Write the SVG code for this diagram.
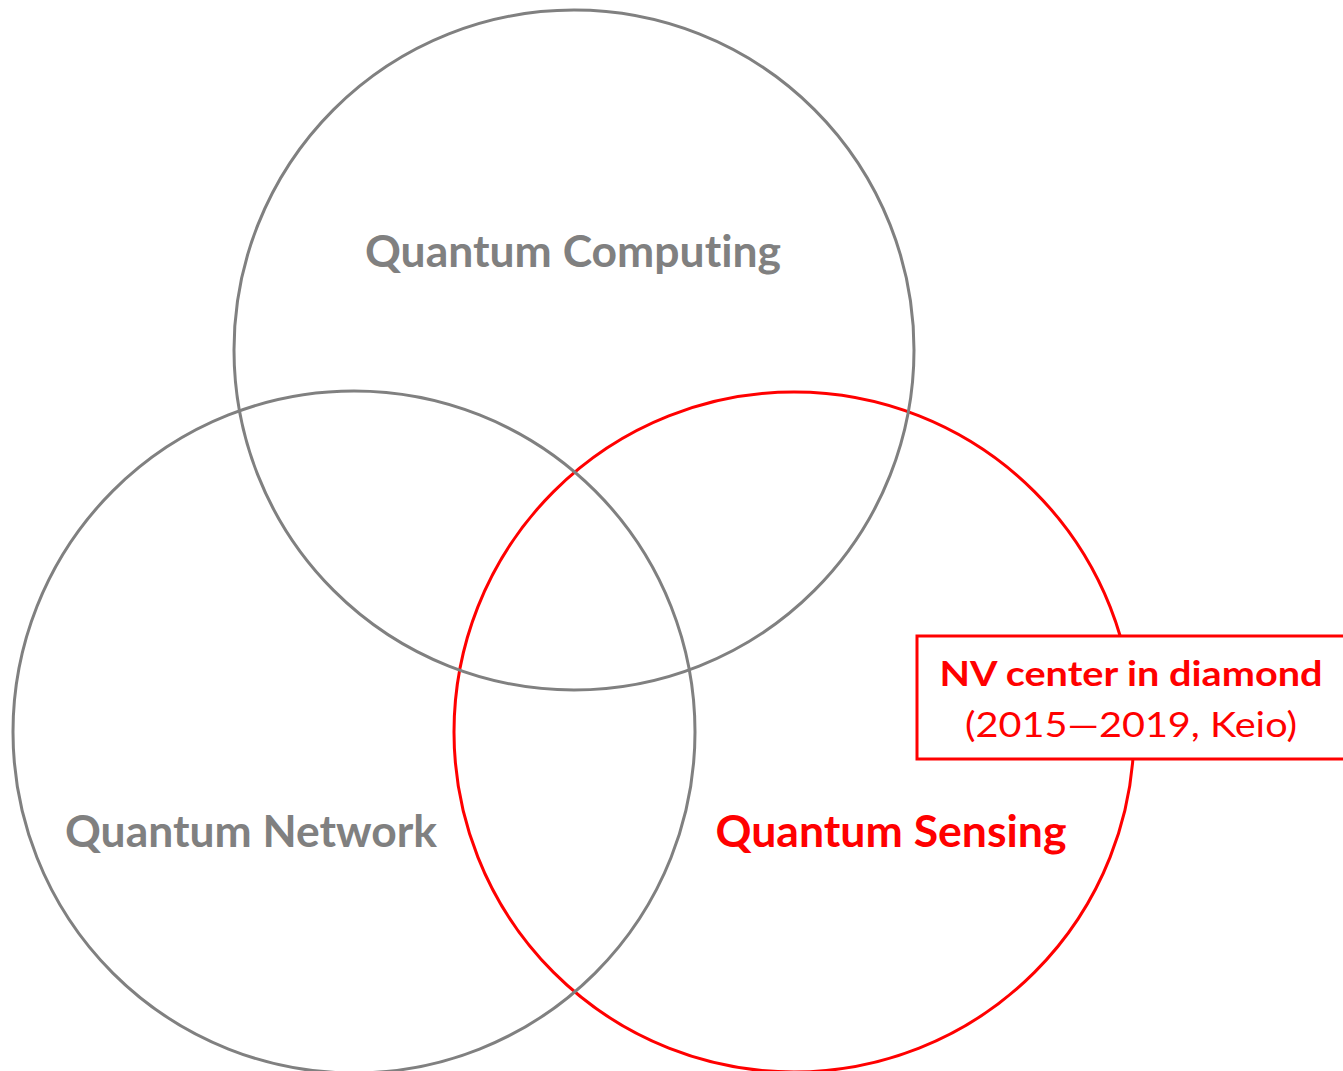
<svg xmlns="http://www.w3.org/2000/svg" width="1343" height="1071" viewBox="0 0 1343 1071">
<style>
.c{fill:none;stroke-width:3}
.g{stroke:#808080}
.r{stroke:#ff0000}
.t{font-family:Lato,"Open Sans","Liberation Sans",sans-serif;font-weight:bold;font-size:43px;text-anchor:middle;font-variant-ligatures:none}
.tg{fill:#808080}
.tr{fill:#ff0000}
</style>
<rect width="1343" height="1071" fill="#ffffff"/>
<g id="sensing">
<circle class="c r" cx="794" cy="732" r="340"/>
<text class="t tr" x="891" y="847" textLength="351" lengthAdjust="spacingAndGlyphs">Quantum Sensing</text>
</g>
<g id="computing">
<circle class="c g" cx="574" cy="350" r="340"/>
<text class="t tg" x="573" y="267" textLength="416" lengthAdjust="spacingAndGlyphs">Quantum Computing</text>
</g>
<g id="network">
<circle class="c g" cx="354" cy="732" r="341"/>
<text class="t tg" x="251" y="847" textLength="372" lengthAdjust="spacingAndGlyphs">Quantum Network</text>
</g>
<g id="nv">
<rect x="917" y="636" width="430" height="123" fill="#ffffff" stroke="#ff0000" stroke-width="3"/>
<text x="1131" y="686" font-family="Lato,'Open Sans','Liberation Sans',sans-serif" font-weight="bold" font-size="35" fill="#ff0000" text-anchor="middle" textLength="383" lengthAdjust="spacingAndGlyphs">NV center in diamond</text>
<text x="1131" y="737" font-family="Lato,'Open Sans','Liberation Sans',sans-serif" font-size="35" fill="#ff0000" text-anchor="middle" textLength="332" lengthAdjust="spacingAndGlyphs">(2015—2019, Keio)</text>
</g>
<g id="connectors"></g>
</svg>
